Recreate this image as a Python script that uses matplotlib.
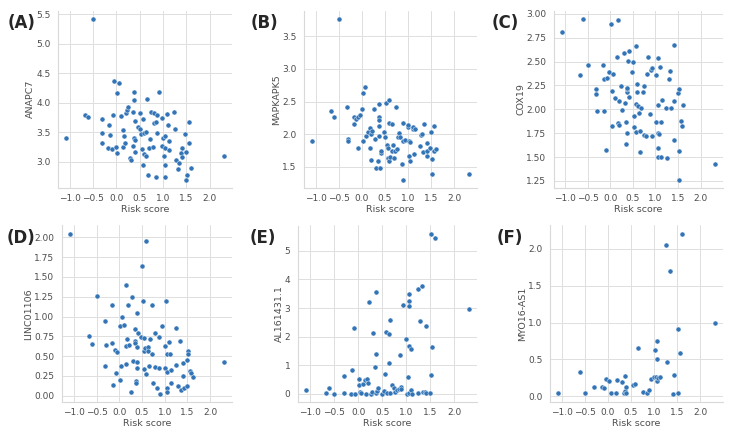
import matplotlib
matplotlib.use('Agg')
import matplotlib.pyplot as plt
import seaborn as sns
from matplotlib.ticker import MultipleLocator

# risk score / expression pairs
anapc7_x = [-0.50, -1.08, -0.67, -0.61, -0.30, -0.31, -0.31, -0.16, -0.14, -0.17, -0.09, -0.08, -0.04, 0.06, 0.01, 0.00, 0.02, 0.09, 0.14, 0.17, 0.15, 0.19, 0.20, 0.23, 0.26, 0.29, 0.31, 0.35, 0.36, 0.37, 0.38, 0.38, 0.40, 0.41, 0.40, 0.46, 0.50, 0.51, 0.52, 0.54, 0.57, 0.58, 0.59, 0.59, 0.63, 0.64, 0.65, 0.67, 0.71, 0.73, 0.74, 0.78, 0.80, 0.81, 0.86, 0.87, 0.86, 0.91, 0.88, 0.99, 0.99, 1.01, 1.03, 1.04, 1.05, 1.05, 1.05, 1.09, 1.10, 1.12, 1.14, 1.24, 1.25, 1.28, 1.33, 1.35, 1.40, 1.39, 1.40, 1.47, 1.50, 1.51, 1.50, 1.55, 1.56, 1.60, 2.31]
anapc7_y = [5.43, 3.41, 3.80, 3.76, 3.72, 3.49, 3.31, 3.63, 3.46, 3.23, 3.22, 3.79, 4.37, 4.34, 4.16, 3.25, 3.15, 3.78, 3.53, 3.44, 3.25, 3.32, 3.83, 3.88, 3.93, 3.07, 3.02, 3.27, 3.84, 4.18, 4.05, 3.41, 3.36, 3.69, 3.16, 3.59, 3.55, 3.82, 3.47, 3.22, 2.94, 3.73, 3.48, 3.13, 3.51, 3.10, 4.07, 2.77, 3.23, 3.39, 3.85, 3.25, 3.82, 3.65, 3.68, 3.79, 2.74, 4.18, 3.49, 3.75, 3.26, 3.41, 3.10, 3.24, 3.43, 2.94, 2.74, 3.81, 3.62, 3.19, 3.35, 3.84, 3.56, 3.02, 2.87, 2.97, 3.24, 3.14, 3.08, 3.47, 3.16, 2.78, 2.69, 3.68, 3.32, 2.89, 3.09]

mapkapk5_x = [-0.49, -1.08, -0.67, -0.61, -0.31, -0.30, -0.30, -0.17, -0.16, -0.13, -0.08, -0.05, -0.09, 0.01, 0.02, 0.03, 0.07, 0.10, 0.14, 0.17, 0.17, 0.20, 0.19, 0.23, 0.26, 0.29, 0.31, 0.34, 0.37, 0.37, 0.38, 0.37, 0.38, 0.40, 0.41, 0.41, 0.48, 0.50, 0.52, 0.54, 0.56, 0.58, 0.57, 0.59, 0.59, 0.61, 0.65, 0.66, 0.68, 0.69, 0.72, 0.74, 0.76, 0.79, 0.80, 0.83, 0.86, 0.89, 0.89, 0.90, 0.94, 0.99, 1.00, 1.03, 1.03, 1.05, 1.05, 1.10, 1.11, 1.12, 1.15, 1.25, 1.28, 1.30, 1.33, 1.35, 1.40, 1.40, 1.41, 1.48, 1.50, 1.51, 1.51, 1.55, 1.57, 1.60, 2.32]
mapkapk5_y = [3.77, 1.90, 2.35, 2.26, 2.41, 1.93, 1.89, 2.16, 2.26, 2.23, 2.26, 2.29, 1.79, 2.38, 2.63, 1.89, 2.72, 1.98, 2.03, 2.10, 1.79, 2.01, 1.61, 2.05, 2.39, 1.93, 1.49, 1.59, 1.98, 2.26, 2.22, 2.13, 2.46, 1.49, 1.71, 1.75, 2.04, 1.96, 2.48, 1.83, 1.79, 2.53, 1.64, 1.59, 2.17, 1.65, 1.75, 2.16, 1.83, 1.64, 1.75, 2.42, 1.78, 1.96, 2.02, 1.95, 1.55, 1.90, 2.17, 1.30, 1.91, 2.11, 2.14, 1.90, 1.67, 1.88, 1.59, 2.08, 2.11, 1.70, 2.08, 1.82, 1.99, 2.01, 1.72, 2.16, 1.87, 1.67, 1.75, 1.79, 2.03, 1.62, 1.39, 2.12, 1.74, 1.78, 1.39]

cox19_x = [-1.07, -0.60, -0.66, -0.48, -0.31, -0.31, -0.30, -0.16, -0.14, -0.13, -0.09, -0.07, -0.03, 0.02, 0.03, 0.04, 0.07, 0.10, 0.14, 0.17, 0.18, 0.20, 0.20, 0.24, 0.27, 0.30, 0.32, 0.36, 0.36, 0.37, 0.38, 0.38, 0.38, 0.40, 0.41, 0.42, 0.49, 0.50, 0.53, 0.52, 0.56, 0.56, 0.58, 0.60, 0.60, 0.61, 0.64, 0.65, 0.65, 0.68, 0.72, 0.74, 0.74, 0.78, 0.81, 0.84, 0.87, 0.90, 0.92, 0.93, 1.01, 1.02, 1.06, 1.06, 1.05, 1.07, 1.05, 1.05, 1.10, 1.13, 1.13, 1.14, 1.24, 1.26, 1.29, 1.33, 1.35, 1.40, 1.41, 1.41, 1.49, 1.51, 1.51, 1.52, 1.56, 1.58, 1.61, 2.32]
cox19_y = [2.81, 2.95, 2.36, 2.46, 2.21, 2.16, 1.98, 2.46, 2.32, 1.98, 1.57, 2.33, 2.39, 2.89, 2.19, 1.83, 2.37, 2.12, 2.55, 2.94, 1.86, 1.84, 2.09, 2.24, 1.99, 2.59, 2.07, 1.87, 1.64, 2.18, 2.21, 2.22, 1.75, 2.51, 2.61, 2.13, 2.39, 2.49, 1.93, 1.81, 1.76, 2.66, 2.06, 2.18, 2.26, 2.03, 1.96, 1.77, 1.55, 2.01, 2.18, 2.24, 1.73, 1.72, 2.37, 2.55, 1.95, 2.41, 2.43, 1.72, 1.87, 2.36, 2.54, 2.05, 1.75, 1.74, 1.59, 1.50, 2.44, 1.87, 1.50, 2.10, 2.01, 1.49, 2.32, 2.40, 2.01, 2.67, 2.09, 1.68, 2.17, 2.21, 1.56, 1.26, 1.88, 1.83, 2.04, 1.43]

linc01106_x = [-1.09, -0.67, -0.60, -0.50, -0.31, -0.30, -0.31, -0.16, -0.17, -0.13, -0.09, -0.08, -0.04, 0.02, 0.02, 0.03, 0.06, 0.10, 0.14, 0.15, 0.15, 0.18, 0.20, 0.22, 0.26, 0.29, 0.31, 0.35, 0.34, 0.35, 0.36, 0.36, 0.38, 0.38, 0.38, 0.40, 0.41, 0.48, 0.51, 0.52, 0.54, 0.55, 0.55, 0.57, 0.58, 0.58, 0.63, 0.63, 0.65, 0.67, 0.71, 0.73, 0.74, 0.79, 0.79, 0.82, 0.87, 0.88, 0.90, 0.93, 1.00, 1.01, 1.02, 1.04, 1.05, 1.05, 1.05, 1.09, 1.11, 1.13, 1.14, 1.24, 1.24, 1.29, 1.33, 1.35, 1.40, 1.41, 1.42, 1.49, 1.50, 1.51, 1.51, 1.55, 1.58, 1.62, 2.31]
linc01106_y = [2.05, 0.75, 0.65, 1.26, 0.94, 0.64, 0.37, 1.14, 0.66, 0.13, 0.58, 0.28, 0.55, 0.88, 0.20, 0.38, 1.00, 0.89, 0.40, 1.40, 0.63, 0.71, 1.15, 0.64, 0.05, 1.25, 0.44, 0.84, 0.69, 0.66, 0.19, 0.16, 1.04, 0.62, 0.35, 0.43, 0.79, 0.74, 1.64, 1.20, 0.56, 0.73, 0.33, 0.60, 0.27, 1.95, 0.61, 0.57, 0.38, 0.72, 1.15, 0.52, 0.16, 0.79, 0.36, 0.10, 0.74, 0.35, 0.02, 0.88, 0.63, 0.35, 1.20, 0.52, 0.30, 0.09, 0.05, 0.68, 0.52, 0.32, 0.16, 0.86, 0.39, 0.12, 0.69, 0.07, 0.41, 0.25, 0.09, 0.12, 0.45, 0.56, 0.53, 0.31, 0.28, 0.24, 0.43]

al161431_x = [-1.09, -0.67, -0.61, -0.50, -0.30, -0.30, -0.14, -0.16, -0.09, -0.07, 0.02, 0.01, 0.04, 0.06, 0.09, 0.14, 0.17, 0.19, 0.20, 0.22, 0.26, 0.29, 0.31, 0.35, 0.36, 0.37, 0.38, 0.39, 0.41, 0.50, 0.54, 0.55, 0.57, 0.60, 0.64, 0.64, 0.66, 0.67, 0.71, 0.74, 0.77, 0.81, 0.85, 0.87, 0.89, 0.90, 0.93, 1.00, 1.03, 1.01, 1.05, 1.05, 1.05, 1.05, 1.05, 1.10, 1.10, 1.12, 1.24, 1.25, 1.29, 1.33, 1.36, 1.40, 1.42, 1.42, 1.51, 1.51, 1.49, 1.55, 1.60, 2.31]
al161431_y = [0.14, 0.02, 0.22, 0.00, 0.62, 0.05, 0.82, 0.01, 2.31, 0.01, 0.51, 0.33, 0.07, 0.02, 0.36, 0.50, 0.01, 0.52, 0.40, 3.22, 0.00, 0.08, 2.14, 0.95, 0.02, 1.39, 3.55, 0.09, 0.20, 0.00, 0.09, 0.68, 2.18, 0.05, 1.09, 2.11, 0.02, 2.59, 0.30, 0.21, 0.07, 0.14, 0.18, 1.37, 0.25, 0.17, 3.09, 1.92, 0.58, 0.01, 3.49, 3.26, 3.06, 1.66, 0.02, 1.56, 0.15, 0.01, 3.67, 0.02, 2.53, 3.78, 0.06, 0.07, 2.38, 0.02, 5.60, 0.67, 0.02, 1.63, 5.43, 2.97]

myo16_x = [-1.08, -0.60, -0.49, -0.29, -0.13, -0.08, -0.04, 0.02, 0.07, 0.17, 0.19, 0.31, 0.35, 0.37, 0.38, 0.40, 0.39, 0.55, 0.58, 0.65, 0.75, 0.84, 0.88, 0.93, 1.00, 1.03, 1.05, 1.06, 1.06, 1.06, 1.09, 1.12, 1.26, 1.29, 1.34, 1.40, 1.42, 1.51, 1.52, 1.55, 1.60, 2.32]
myo16_y = [0.04, 0.33, 0.05, 0.13, 0.12, 0.11, 0.23, 0.21, 0.05, 0.05, 0.22, 0.19, 0.05, 0.27, 0.07, 0.13, 0.05, 0.15, 0.17, 0.65, 0.06, 0.04, 0.08, 0.24, 0.26, 0.63, 0.26, 0.21, 0.75, 0.50, 0.25, 0.26, 2.06, 0.46, 1.70, 0.03, 0.29, 0.91, 0.05, 0.59, 2.21, 1.00]

panels = ['(A)', '(B)', '(C)', '(D)', '(E)', '(F)']
genes = ['ANAPC7', 'MAPKAPK5', 'COX19', 'LINC01106', 'AL161431.1', 'MYO16-AS1']
xs = [anapc7_x, mapkapk5_x, cox19_x, linc01106_x, al161431_x, myo16_x]
ys = [anapc7_y, mapkapk5_y, cox19_y, linc01106_y, al161431_y, myo16_y]
ysteps = [0.5, 0.5, 0.25, 0.25, 1, 0.5]


def main():
    sns.set_style('whitegrid')
    plt.rcParams['font.family'] = ['DejaVu Sans']
    W, H = 734, 430
    fig = plt.figure(figsize=(W / 100, H / 100), dpi=100)
    # axes boxes in pixels: left, right, top, bottom
    boxes = [(58, 232, 10.5, 188), (304, 477, 10.5, 188), (554, 723, 10.5, 188),
             (62, 232, 225.5, 402), (298, 477, 225.5, 402), (550, 723, 225.5, 402)]
    tags = [(8, 23), (251, 23), (492, 23), (7, 238), (250, 238), (497, 238)]
    for i in range(6):
        l, r, t, b = boxes[i]
        ax = fig.add_axes([l / W, 1 - b / H, (r - l) / W, (b - t) / H])
        ax.scatter(xs[i], ys[i], s=13, color='#3274b6', edgecolor='white',
                   linewidth=0.3, zorder=3)
        ax.xaxis.set_major_locator(MultipleLocator(0.5))
        ax.yaxis.set_major_locator(MultipleLocator(ysteps[i]))
        if ysteps[i] == 0.25:
            ax.yaxis.set_major_formatter('{x:.2f}')
        elif ysteps[i] == 0.5:
            ax.yaxis.set_major_formatter('{x:.1f}')
        else:
            ax.yaxis.set_major_formatter('{x:.0f}')
        ax.xaxis.set_major_formatter('{x:.1f}')
        ax.tick_params(labelsize=6.5, colors='.3')
        ax.tick_params(axis='x', pad=1)
        ax.tick_params(axis='y', pad=2)
        ax.set_xlabel('Risk score', fontsize=6.8, color='.3', labelpad=1)
        ax.set_ylabel(genes[i], fontsize=6.8, color='.3', labelpad=0.5)
        ax.grid(color='.87', linewidth=0.7)
        sns.despine(ax=ax)
        for s in ['left', 'bottom']:
            ax.spines[s].set_color('.85')
        fig.text(tags[i][0] / W, 1 - tags[i][1] / H, panels[i], fontsize=12,
                 fontweight='bold', va='center', ha='left')
    fig.savefig('out.png', dpi=100)


if __name__ == '__main__':
    main()
